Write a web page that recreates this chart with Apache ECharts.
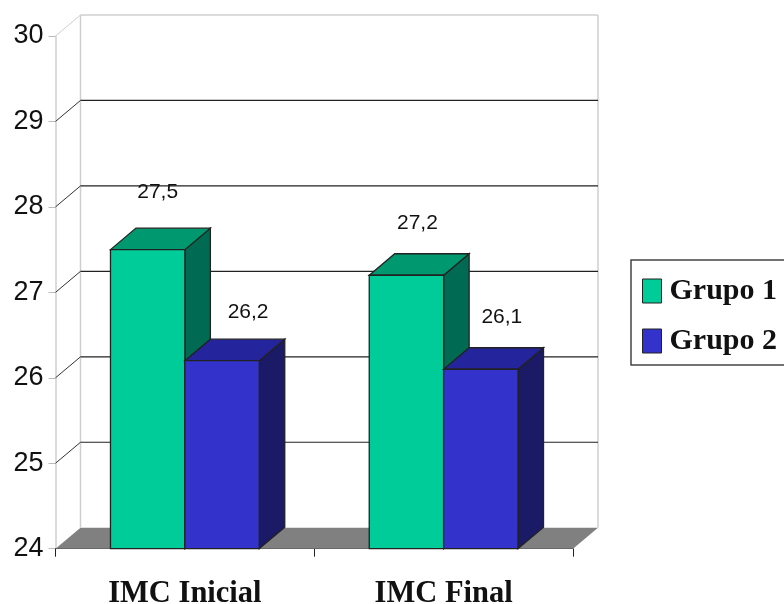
<!DOCTYPE html>
<html><head><meta charset="utf-8">
<style>html,body{margin:0;padding:0;background:#fff;overflow:hidden}#c{width:784px;height:604px}</style>
<script src="https://cdn.jsdelivr.net/npm/echarts@6/dist/echarts.min.js"></script>
</head><body><div id="c"></div>
<script>
const categories = ['IMC Inicial', 'IMC Final'];
const grupo1 = [27.5, 27.2];
const grupo2 = [26.2, 26.1];
const yTicks = [24, 25, 26, 27, 28, 29, 30];

const WALL = [25, -21];
const BAR = [25.5, -21.5];
const EDGE = '#222';
const chart = echarts.init(document.getElementById('c'), null, {renderer: 'canvas'});

function backdrop(params, api) {
  const v = api.value(0);
  const p = api.coord([0, v]);
  const x0 = params.coordSys.x, x1 = x0 + params.coordSys.width, y = p[1];
  const bx = x0 + WALL[0], bxr = x1 + WALL[0], by = y + WALL[1];
  const kids = [];
  const isTop = v === yTicks[yTicks.length - 1], isBase = v === yTicks[0];
  if (isBase) {
    const top = api.coord([0, yTicks[yTicks.length - 1]])[1] + WALL[1];
    kids.push({type: 'polygon', shape: {points: [[x0, y], [x1, y], [bxr, by], [bx, by]]}, style: {fill: '#808080', stroke: null}});
    kids.push({type: 'line', shape: {x1: bx, y1: top, x2: bx, y2: by}, style: {stroke: '#cfcfcf', lineWidth: 1.5}});
    kids.push({type: 'line', shape: {x1: bxr, y1: top, x2: bxr, y2: by}, style: {stroke: '#cfcfcf', lineWidth: 1.5}});
  } else {
    const c = isTop ? '#cfcfcf' : '#333';
    kids.push({type: 'line', shape: {x1: x0, y1: y, x2: bx, y2: by}, style: {stroke: c, lineWidth: 1}});
    kids.push({type: 'line', shape: {x1: bx, y1: by, x2: bxr, y2: by}, style: {stroke: isTop ? '#cfcfcf' : '#222', lineWidth: isTop ? 1.5 : 1.2}});
  }
  return {type: 'group', children: kids};
}

function bar3d(side, colors, labelNudge) {
  return function (params, api) {
    const base = api.coord([api.value(0), yTicks[0]]);
    const top = api.coord([api.value(0), api.value(1)]);
    const bw = api.size([1, 0])[0] * 0.2875;
    const l = side < 0 ? base[0] - bw : base[0], r = l + bw, t = top[1], b = base[1];
    const dx = BAR[0], dy = BAR[1];
    const stroke = {stroke: EDGE, lineWidth: 1.3};
    const n = labelNudge[params.dataIndex];
    return {type: 'group', children: [
      {type: 'polygon', shape: {points: [[r, t], [r + dx, t + dy], [r + dx, b + dy], [r, b]]}, style: {fill: colors[2], ...stroke}},
      {type: 'polygon', shape: {points: [[l, t], [l + dx, t + dy], [r + dx, t + dy], [r, t]]}, style: {fill: colors[1], ...stroke}},
      {type: 'rect', shape: {x: l, y: t, width: bw, height: b - t}, style: {fill: colors[0], ...stroke}},
      {type: 'text', style: {x: (l + r) / 2 + n[0], y: t + n[1], text: String(api.value(1).toFixed(1)).replace('.', ','),
        font: '21px "Liberation Sans"', fill: '#111', align: 'center', verticalAlign: 'middle'}}
    ]};
  };
}

const green = ['#00CC99', '#00996F', '#006B52'];
const blue = ['#3333CC', '#24249C', '#1A1A66'];

chart.setOption({
  animation: false,
  backgroundColor: '#fff',
  grid: {left: 55.5, right: 211, top: 36, bottom: 55.3, containLabel: false, outerBoundsMode: 'none'},
  xAxis: {
    type: 'category', data: categories, boundaryGap: true,
    axisLine: {lineStyle: {color: '#222', width: 1.2}},
    axisTick: {show: true, length: 8, lineStyle: {color: '#222'}},
    axisLabel: {color: '#111', margin: 30, fontFamily: 'Liberation Serif', fontWeight: 'bold', fontSize: 30.5}
  },
  yAxis: {
    type: 'value', min: 24, max: 30, interval: 1,
    axisLine: {show: true, lineStyle: {color: '#cfcfcf', width: 1.5}},
    axisTick: {show: true, length: 7, lineStyle: {color: '#bbb'}},
    axisLabel: {color: '#111', margin: 12, fontFamily: 'Liberation Sans', fontSize: 27, padding: [0, 0, 4, 0], verticalAlign: 'middle'},
    splitLine: {show: false}
  },
  legend: {
    left: 631, top: 260, orient: 'vertical', selectedMode: false,
    itemWidth: 19, itemHeight: 24, itemGap: 20, padding: [16, 40, 9, 11],
    backgroundColor: '#fff', borderColor: '#444', borderWidth: 1.5,
    textStyle: {fontFamily: 'Liberation Serif', fontWeight: 'bold', fontSize: 30, color: '#111', padding: [0, 0, 0, 3]},
    data: [
      {name: 'Grupo 1', icon: 'rect', itemStyle: {color: green[0], borderColor: EDGE, borderWidth: 1}},
      {name: 'Grupo 2', icon: 'rect', itemStyle: {color: blue[0], borderColor: EDGE, borderWidth: 1}}
    ]
  },
  series: [
    {type: 'custom', name: 'wall', clip: false, silent: true, z: 1, renderItem: backdrop, encode: {y: 0}, data: yTicks.map(v => [v])},
    {type: 'custom', name: 'Grupo 1', clip: false, z: 3, itemStyle: {color: green[0]}, renderItem: bar3d(-1, green, [[10, -57], [11, -52]]), encode: {x: 0, y: 1}, data: grupo1.map((v, i) => [i, v])},
    {type: 'custom', name: 'Grupo 2', clip: false, z: 4, itemStyle: {color: blue[0]}, renderItem: bar3d(1, blue, [[26, -49], [21, -52]]), encode: {x: 0, y: 1}, data: grupo2.map((v, i) => [i, v])}
  ]
});
</script></body></html>
